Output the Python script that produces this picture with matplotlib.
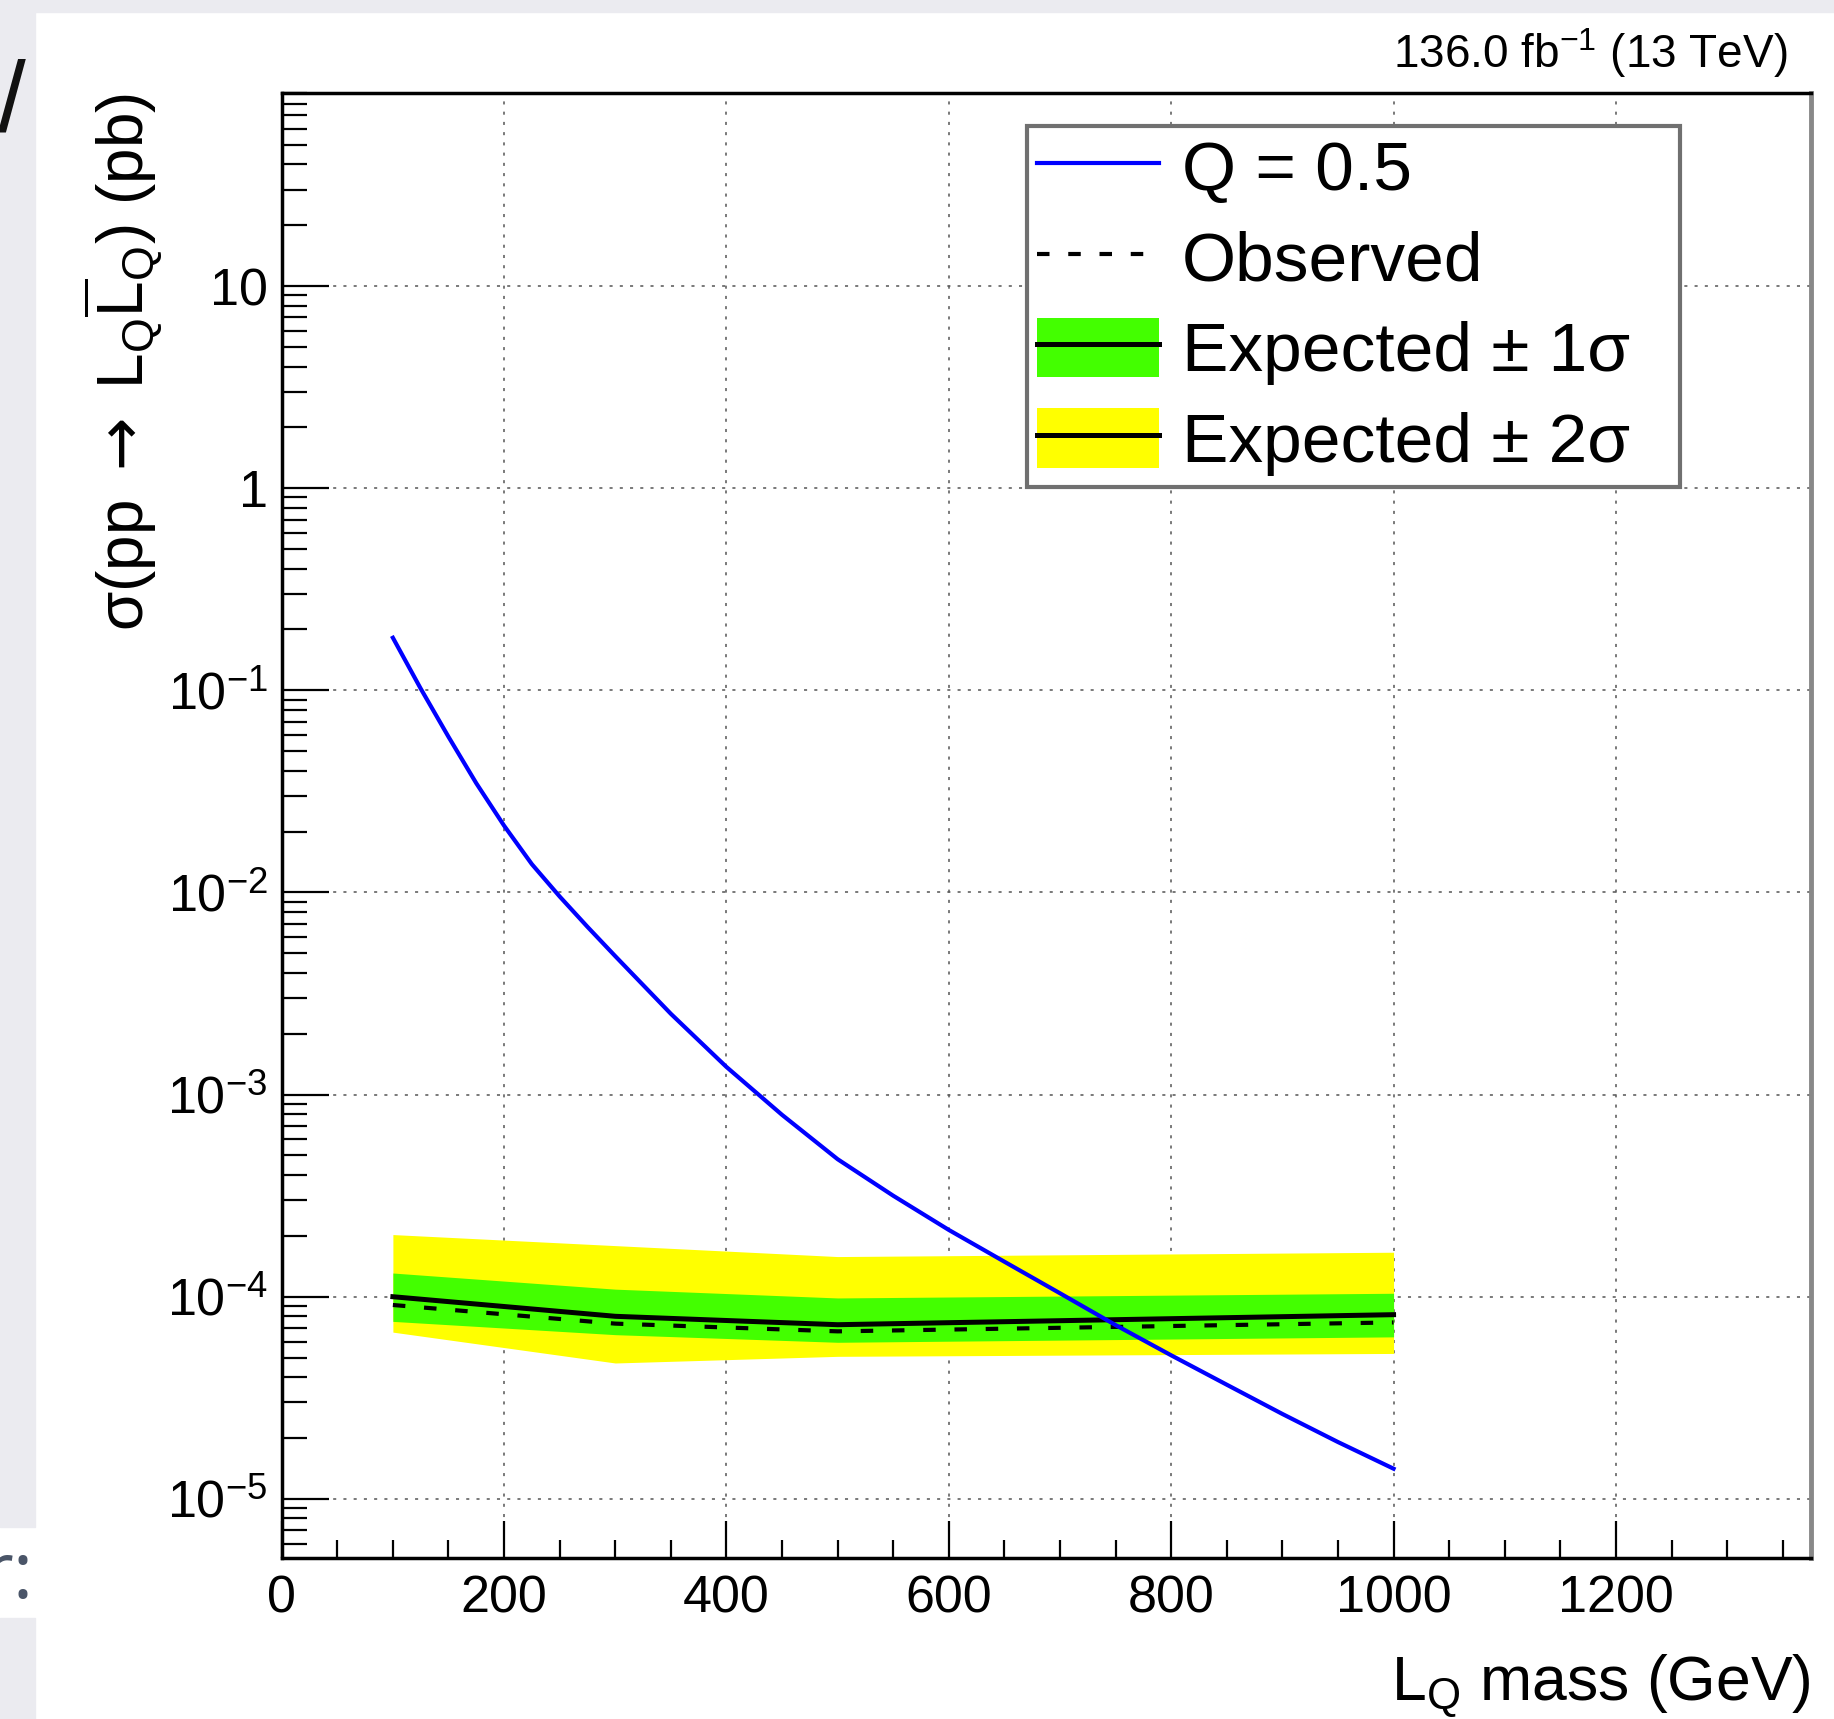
import numpy as np
import matplotlib
matplotlib.use('Agg')
import matplotlib.pyplot as plt
from matplotlib.patches import Patch, Rectangle
from matplotlib.lines import Line2D
from matplotlib.ticker import MultipleLocator, LogLocator, FuncFormatter, NullFormatter

plt.rcParams['font.family'] = ['Liberation Sans', 'DejaVu Sans']
plt.rcParams['mathtext.fontset'] = 'custom'
plt.rcParams['mathtext.rm'] = 'Liberation Sans'
plt.rcParams['mathtext.it'] = 'Liberation Sans:italic'
plt.rcParams['mathtext.bf'] = 'Liberation Sans:bold'
plt.rcParams['mathtext.sf'] = 'DejaVu Sans'

# theory cross section, Q = 0.5 (pb)
theory_mass = [100, 125, 150, 175, 200, 225, 250, 275, 300, 350, 400, 450, 500,
               550, 600, 650, 700, 750, 800, 850, 900, 950, 1000]
theory_xsec = [0.182, 0.102, 0.0589, 0.0347, 0.0214, 0.0138, 0.00955, 0.00676,
               0.00484, 0.00251, 0.00137, 7.94e-4, 4.79e-4, 3.16e-4, 2.14e-4,
               1.49e-4, 1.04e-4, 7.24e-5, 5.13e-5, 3.67e-5, 2.63e-5, 1.91e-5, 1.41e-5]

# limits (pb)
lim_mass = [100, 300, 500, 1000]
observed = [9.1e-5, 7.36e-5, 6.74e-5, 7.46e-5]
expected = [1.0e-4, 8.0e-5, 7.27e-5, 8.15e-5]
exp_1s_up = [1.31e-4, 1.09e-4, 9.86e-5, 1.04e-4]
exp_1s_dn = [7.55e-5, 6.49e-5, 5.95e-5, 6.33e-5]
exp_2s_up = [2.03e-4, 1.79e-4, 1.58e-4, 1.66e-4]
exp_2s_dn = [6.68e-5, 4.70e-5, 5.07e-5, 5.24e-5]

x_ticks = [0, 200, 400, 600, 800, 1000, 1200]

W, H = 1834, 1719
fig = plt.figure(figsize=(W / 100, H / 100), dpi=100)
fig.patch.set_facecolor('white')

# bits of the screenshot around the plot
gray = '#ebebf0'
fig.patches.append(Rectangle((0, 1 - 12 / H), 1, 12 / H, transform=fig.transFigure, color=gray, zorder=0))
fig.patches.append(Rectangle((0, 192 / H), 35 / W, 1, transform=fig.transFigure, color=gray, zorder=0))
fig.patches.append(Rectangle((0, 0), 35 / W, 101 / H, transform=fig.transFigure, color=gray, zorder=0))
fig.text(26 / W, 1 - 131 / H, '/', fontsize=72, color='#111111', ha='right', va='baseline')
fig.text(34 / W, 1 - 1598 / H, 'r:', fontsize=56, color='#4a5568', ha='right', va='baseline',
         family=['Open Sans', 'DejaVu Sans'])

ax = fig.add_axes([281.7 / W, 1 - 1558.3 / H, (1810.5 - 281.7) / W, (1558.3 - 92.7) / H])

ax.fill_between(lim_mass, exp_2s_dn, exp_2s_up, color='#ffff00', lw=0, zorder=2)
ax.fill_between(lim_mass, exp_1s_dn, exp_1s_up, color='#43ff00', lw=0, zorder=3)
ax.plot(lim_mass, expected, color='black', lw=3.6, zorder=4)
ax.plot(lim_mass, observed, color='black', lw=3, ls=(0, (3, 4.5)), zorder=5)
ax.plot(theory_mass, theory_xsec, color='#0000ff', lw=3, zorder=6)

ax.set_yscale('log')
ax.set_xlim(0, 1375)
ax.set_ylim(5.08e-6, 90.5)

ax.xaxis.set_minor_locator(MultipleLocator(50))
ax.set_xticks(x_ticks)
ax.yaxis.set_major_locator(LogLocator(base=10, numticks=20))
ax.yaxis.set_minor_locator(LogLocator(base=10, subs=np.arange(2, 10), numticks=20))
ax.yaxis.set_minor_formatter(NullFormatter())


def ylab(v, pos):
    e = int(round(np.log10(v)))
    if e == 0:
        return '1'
    if e == 1:
        return '10'
    return r'$10^{%d}$' % e


ax.yaxis.set_major_formatter(FuncFormatter(ylab))

ax.tick_params(axis='both', which='both', direction='in', top=False, right=False, width=1.6, colors='black')
ax.tick_params(axis='y', which='major', length=34, pad=10, labelsize=37.5)
ax.tick_params(axis='y', which='minor', length=18)
ax.tick_params(axis='x', which='major', length=27, pad=12, labelsize=37.5)
ax.tick_params(axis='x', which='minor', length=13)

for s in ['left', 'bottom', 'top']:
    ax.spines[s].set_linewidth(2.5)
ax.spines['right'].set_linewidth(3.5)
ax.spines['right'].set_color('#888888')

ax.grid(True, which='major', color='#555555', lw=1.1, ls=(0, (2, 4.7)))
ax.set_axisbelow(True)

ax.set_xlabel(r'$\mathrm{L}_{\mathrm{Q}}$ mass (GeV)', fontsize=45, loc='right')
ax.xaxis.set_label_coords(1.0, -0.064)
ax.set_ylabel(r'σ(pp $\mathsf{\rightarrow}$ $\mathrm{L}_{\mathrm{Q}}\overline{\mathrm{L}}_{\mathrm{Q}}$) (pb)',
              fontsize=46, loc='top')
ax.yaxis.set_label_coords(-0.0776, 1.0)

fig.text(1787 / W, 1 - 68 / H, r'136.0 fb$^{-1}$ (13 TeV)', fontsize=33, ha='right', va='baseline')

handles = [
    Line2D([], [], color='#0000ff', lw=3),
    Line2D([], [], color='black', lw=3, ls=(0, (3, 4.5))),
    (Patch(facecolor='#43ff00', lw=0), Line2D([], [], color='black', lw=3.6)),
    (Patch(facecolor='#ffff00', lw=0), Line2D([], [], color='black', lw=3.6)),
]
labels = ['Q = 0.5', 'Observed', 'Expected ± 1σ', 'Expected ± 2σ']
leg = ax.legend(handles, labels, loc='upper left', bbox_to_anchor=(0.4875, 0.7335, 0.4271, 0.244),
                mode='expand', borderaxespad=0, fontsize=50, handlelength=1.75, handleheight=0.95,
                handletextpad=0.33, labelspacing=0.33, borderpad=0.15, fancybox=False, framealpha=1)
leg.get_frame().set_edgecolor('#707070')
leg.get_frame().set_linewidth(3)
leg.set_zorder(10)

fig.savefig('out.png', dpi=100)
